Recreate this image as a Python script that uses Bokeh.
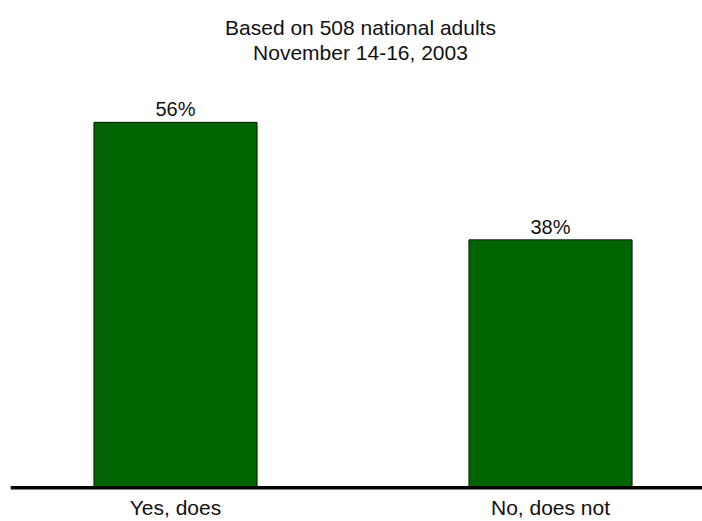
from bokeh.plotting import figure
from bokeh.models import Range1d, Span, FixedTicker, ColumnDataSource, Label
from bokeh.core.properties import value
from bokeh.embed import file_html
from bokeh.resources import INLINE

# Survey responses
categories = ["Yes, does", "No, does not"]
percents = [56, 38]
title_lines = ["Based on 508 national adults", "November 14-16, 2003"]

FONT = "Liberation Sans"
BAR_GREEN = "#006400"

positions = list(range(len(categories)))
source = ColumnDataSource(dict(
    x=positions,
    top=percents,
    label=[f"{v}%" for v in percents],
))

p = figure(
    width=702, height=521,
    x_range=Range1d(-0.44, 1.4053),
    y_range=Range1d(-0.23, 74.66),
    output_backend="svg", toolbar_location=None,
    min_border_left=10, min_border_right=0, min_border_top=0, min_border_bottom=29,
)
p.outline_line_color = None
p.background_fill_color = "white"
p.border_fill_color = "white"
p.grid.visible = False
p.yaxis.visible = False

# category labels under the baseline
p.xaxis.ticker = FixedTicker(ticks=positions)
p.xaxis.major_label_overrides = {i: c for i, c in enumerate(categories)}
p.xaxis.axis_line_color = None
p.xaxis.major_tick_line_color = None
p.xaxis.minor_tick_line_color = None
p.xaxis.major_tick_in = 0
p.xaxis.major_tick_out = 0
p.xaxis.major_label_standoff = 6
p.xaxis.major_label_text_font = FONT
p.xaxis.major_label_text_font_size = "21px"
p.xaxis.major_label_text_color = "#111111"

p.vbar(x="x", top="top", bottom=0, width=0.435, source=source,
       fill_color=BAR_GREEN, line_color="#0a1a0a", line_width=1)

# value labels above each bar
p.text(x="x", y="top", text="label", source=source,
       text_align="center", text_baseline="alphabetic", y_offset=-13,
       text_font=value(FONT), text_font_size="20px", text_color="#111111")

# baseline
p.add_layout(Span(location=0, dimension="width", line_color="black", line_width=4))

# two-line heading
for txt, y in zip(title_lines, [70.47, 66.74]):
    p.add_layout(Label(x=0.4933, y=y, text=txt, text_align="center",
                       text_baseline="alphabetic", text_font=FONT,
                       text_font_size="21px", text_color="#111111"))

open("out.html", "w").write(file_html(p, INLINE))
